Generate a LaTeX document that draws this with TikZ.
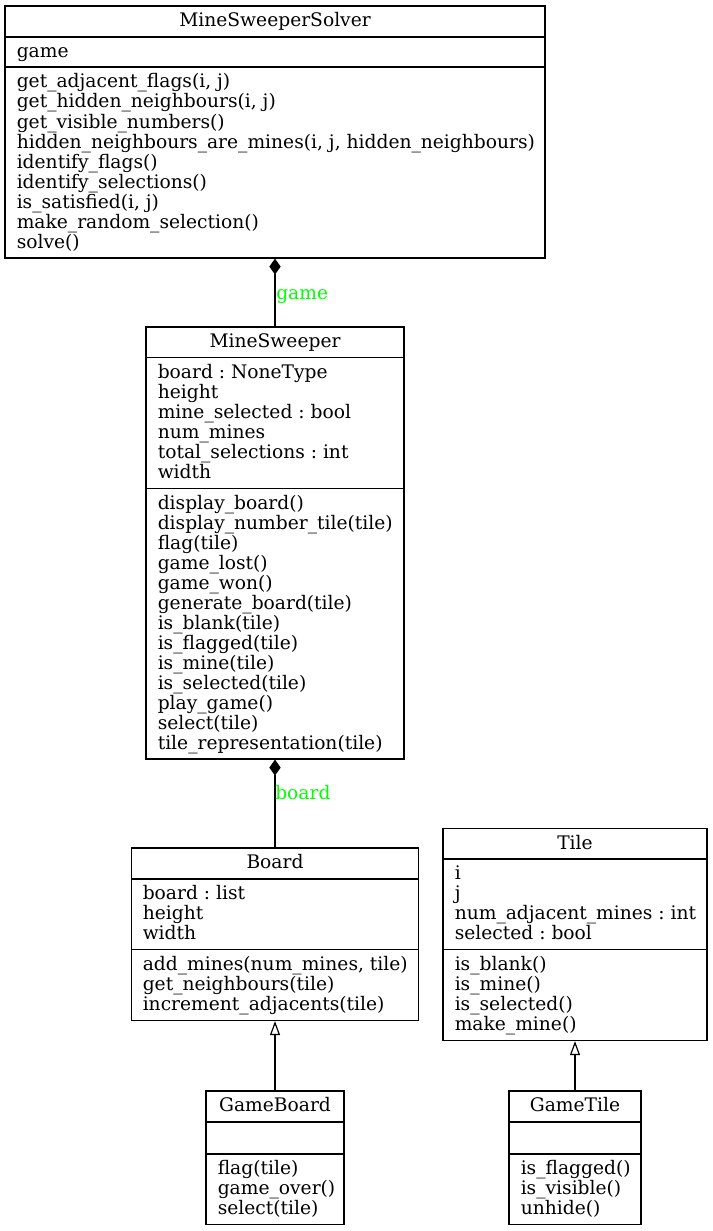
\documentclass[tikz,border=0pt]{standalone}
\usepackage{fontspec}
\setmainfont{DejaVu Serif}
\usetikzlibrary{fit,arrows.meta}
\definecolor{lblgreen}{RGB}{0,255,0}
\newcommand\umlfont{\frenchspacing\fontsize{14pt}{15pt}\selectfont}
\tikzset{
  cls/.style={draw, line width=0.9pt, inner sep=0pt},
  mem/.style={anchor=base west, inner sep=0pt, font=\umlfont},
  ttl/.style={anchor=base, inner sep=0pt, font=\umlfont},
  divline/.style={line width=0.9pt},
  lbl/.style={anchor=base west, inner sep=0pt, text=lblgreen, font=\umlfont},
  comp/.style={line width=0.9pt, {Diamond[length=12pt, width=8.5pt]}-},
  inher/.style={line width=0.9pt, {Triangle[open, length=10.5pt, width=7.5pt]}-},
}
\begin{document}
\begin{tikzpicture}[x=0.75pt, y=-0.75pt]
\fill[white] (0,0) rectangle (713,1231);
\useasboundingbox (0,0) rectangle (713,1231);

% MineSweeperSolver
\node[cls, fit={(5,6) (545,258)}] (solver) {};
\draw[divline] (5,37) -- (545,37);
\draw[divline] (5,67) -- (545,67);
\node[ttl] (solver-t) at (275,26.7) {MineSweeperSolver};
\node[mem] (solver-a1) at (16.5,57.3) {game};
\foreach \t [count=\k] in {{get\_adjacent\_flags(i, j)}, {get\_hidden\_neighbours(i, j)}, get\_visible\_numbers(), {hidden\_neighbours\_are\_mines(i, j, hidden\_neighbours)}, identify\_flags(), identify\_selections(), {is\_satisfied(i, j)}, make\_random\_selection(), solve()}
  \node[mem, name=solver-m\k] at (16.5, 88+20*\k-20) {\t};

% MineSweeper
\node[cls, fit={(146,327) (404,759)}] (ms) {};
\draw[divline] (146,357.5) -- (404,357.5);
\draw[divline] (146,488.5) -- (404,488.5);
\node[ttl] (ms-t) at (275,347.3) {MineSweeper};
\foreach \t [count=\k] in {board : NoneType, height, mine\_selected : bool, num\_mines, total\_selections : int, width}
  \node[mem, name=ms-a\k] at (157.5, 378.3+20*\k-20) {\t};
\foreach \t [count=\k] in {display\_board(), display\_number\_tile(tile), flag(tile), game\_lost(), game\_won(), generate\_board(tile), is\_blank(tile), is\_flagged(tile), is\_mine(tile), is\_selected(tile), play\_game(), select(tile), tile\_representation(tile)}
  \node[mem, name=ms-m\k] at (157.5, 509+20*\k-20) {\t};

% Board
\node[cls, fit={(131.5,848) (418.5,1020.5)}] (board) {};
\draw[divline] (131.5,879) -- (418.5,879);
\draw[divline] (131.5,949.5) -- (418.5,949.5);
\node[ttl] (board-t) at (275,868.7) {Board};
\foreach \t [count=\k] in {board : list, height, width}
  \node[mem, name=board-a\k] at (142.5, 899.7+20*\k-20) {\t};
\foreach \t [count=\k] in {{add\_mines(num\_mines, tile)}, get\_neighbours(tile), increment\_adjacents(tile)}
  \node[mem, name=board-m\k] at (142.5, 970.2+20*\k-20) {\t};

% Tile
\node[cls, fit={(443,828.3) (707,1040.5)}] (tile) {};
\draw[divline] (443,859) -- (707,859);
\draw[divline] (443,949.5) -- (707,949.5);
\node[ttl] (tile-t) at (575,849) {Tile};
\foreach \t [count=\k] in {i, j, num\_adjacent\_mines : int, selected : bool}
  \node[mem, name=tile-a\k] at (454.5, 879.7+20*\k-20) {\t};
\foreach \t [count=\k] in {is\_blank(), is\_mine(), is\_selected(), make\_mine()}
  \node[mem, name=tile-m\k] at (454.5, 970.2+20*\k-20) {\t};

% GameBoard
\node[cls, fit={(206,1091) (344,1224.5)}] (gboard) {};
\draw[divline] (206,1122) -- (344,1122);
\draw[divline] (206,1154) -- (344,1154);
\node[ttl] (gboard-t) at (275,1111.7) {GameBoard};
\foreach \t [count=\k] in {flag(tile), game\_over(), select(tile)}
  \node[mem, name=gboard-m\k] at (217.5, 1174.7+20*\k-20) {\t};

% GameTile
\node[cls, fit={(509,1091) (641,1224.5)}] (gtile) {};
\draw[divline] (509,1122) -- (641,1122);
\draw[divline] (509,1154) -- (641,1154);
\node[ttl] (gtile-t) at (575,1111.7) {GameTile};
\foreach \t [count=\k] in {is\_flagged(), is\_visible(), unhide()}
  \node[mem, name=gtile-m\k] at (520.5, 1174.7+20*\k-20) {\t};

% connectors
\draw[comp] (solver.south) -- (ms.north);
\node[lbl] (lgame) at (276,299) {game};
\draw[comp] (ms.south) -- (board.north);
\node[lbl] (lboard) at (275,799) {board};
\draw[inher] (board.south) -- (gboard.north);
\draw[inher] (tile.south) -- (gtile.north);
\end{tikzpicture}
\end{document}
